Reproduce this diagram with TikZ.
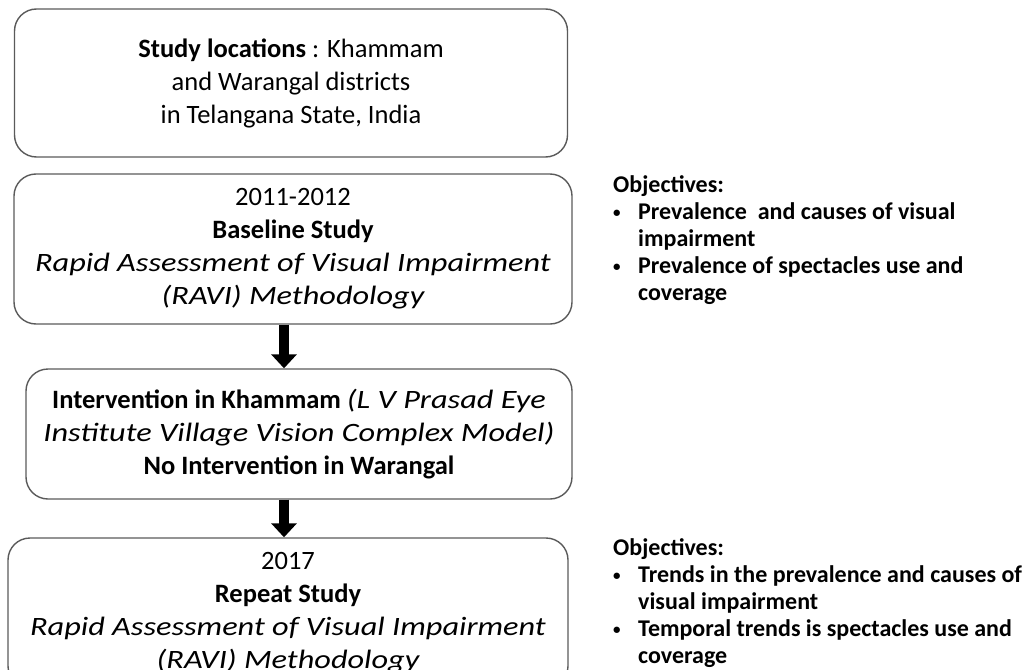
\documentclass[tikz,border=0pt]{standalone}
\usepackage{fontspec}
\usepackage{graphicx}
\setmainfont{Carlito}
\usetikzlibrary{arrows.meta}
\definecolor{boxline}{RGB}{90,90,90}
\newcommand{\wideit}[1]{\scalebox{1.22}[1]{\itshape #1}}
\newcommand{\smallbul}{\makebox[25pt][l]{\raisebox{2pt}{\fontsize{15}{15}\selectfont\textbullet}}}

\begin{document}
\begin{tikzpicture}[x=1pt,y=-1pt,
stage/.style={draw=boxline, line width=1.4pt, rounded corners=22pt, align=center,
    font=\fontsize{26.5}{33}\selectfont, inner sep=0pt},
goals/.style={anchor=north west, align=left, inner sep=0pt,
    font=\fontsize{24}{27}\selectfont\bfseries},
flow/.style={line width=10pt, -{Triangle[width=25pt,length=14pt]}}]
\clip (0,0) rectangle (1030,669);
\node[stage, minimum width=553pt, minimum height=148pt] (loc) at (291,83)
  {\textbf{Study locations} : Khammam\\ and Warangal districts\\ in Telangana State, India};
\node[stage, minimum width=558pt, minimum height=150pt] (base) at (293,249)
  {2011-2012\\ \textbf{Baseline Study}\\ \wideit{Rapid Assessment of Visual Impairment}\\ \wideit{(RAVI) Methodology}};
\node[stage, minimum width=546pt, minimum height=130pt] (interv) at (299,434)
  {\textbf{Intervention in Khammam} \wideit{(L V Prasad Eye}\\ \wideit{Institute Village Vision Complex Model)}\\ \textbf{No Intervention in Warangal}};
\node[stage, minimum width=560pt, minimum height=150pt] (repeat) at (288,613)
  {2017\\ \textbf{Repeat Study}\\ \wideit{Rapid Assessment of Visual Impairment}\\ \wideit{(RAVI) Methodology}};
% objectives
\node[goals] (obj1) at (613,175)
  {Objectives:\\ \smallbul Prevalence\ \ and causes of visual\\ \hspace*{25pt}impairment\\
   \smallbul Prevalence of spectacles use and\\ \hspace*{25pt}coverage};
\node[goals] (obj2) at (613,538)
  {Objectives:\\ \smallbul Trends in the prevalence and causes of\\ \hspace*{25pt}visual impairment\\
   \smallbul Temporal trends is spectacles use and\\ \hspace*{25pt}coverage};
% arrows
\coordinate (axis) at (284,0);
\draw[flow] (axis |- base.south) -- (axis |- interv.north);
\draw[flow] (axis |- interv.south) -- (axis |- repeat.north);
\end{tikzpicture}
\end{document}
